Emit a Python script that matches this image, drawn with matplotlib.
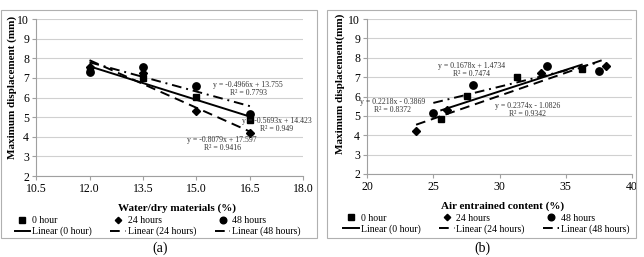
import matplotlib
matplotlib.use("Agg")
import matplotlib.pyplot as plt
from matplotlib.lines import Line2D
from matplotlib.patches import Rectangle
import numpy as np

plt.rcParams['font.family'] = ['Liberation Serif', 'DejaVu Serif']

# ---- data ----
water = [12.0, 13.5, 15.0, 16.5]
disp_0h = [7.4, 7.0, 6.05, 4.85]
disp_24h = [7.55, 7.23, 5.3, 4.2]
disp_48h = [7.3, 7.55, 6.6, 5.15]

air_0h = [36.2, 31.3, 27.55, 25.6]
air_24h = [38.0, 33.1, 26.0, 23.7]
air_48h = [37.5, 33.6, 28.0, 25.0]

# trendline coefficients (slope, intercept) and labels
fit_a = {'0h': (-0.5693, 14.423), '24h': (-0.8079, 17.597), '48h': (-0.4966, 13.755)}
fit_b = {'0h': (0.2218, -0.3869), '24h': (0.2374, -1.0826), '48h': (0.1678, 1.4734)}
eq_a = {'0h': "y = -0.5693x + 14.423\nR² = 0.949",
        '24h': "y = -0.8079x + 17.597\nR² = 0.9416",
        '48h': "y = -0.4966x + 13.755\nR² = 0.7793"}
eq_b = {'0h': "y = 0.2218x - 0.3869\nR² = 0.8372",
        '24h': "y = 0.2374x - 1.0826\nR² = 0.9342",
        '48h': "y = 0.1678x + 1.4734\nR² = 0.7474"}

xticks_a = [10.5, 12.0, 13.5, 15.0, 16.5, 18.0]
xticks_b = [20, 25, 30, 35, 40]
yticks = [2, 3, 4, 5, 6, 7, 8, 9, 10]

fig = plt.figure(figsize=(6.44, 2.57), dpi=100)

styles = {'0h': dict(ls='-'), '24h': dict(ls=(0, (5, 3))), '48h': dict(ls=(0, (5, 2.5, 1, 2.5)))}
markers = {'0h': ('s', 5.0), '24h': ('D', 3.6), '48h': ('o', 5.3)}
names = {'0h': '0 hour', '24h': '24 hours', '48h': '48 hours'}

def draw(ax, xs_dict, ys_dict, fits, eqs, eqpos, xlim, xticks, xfmt, xlabel, ylabel,
         leg_x, xlab_pos, ylab_pos):
    for k in ['0h', '24h', '48h']:
        m, s = markers[k]
        ax.plot(xs_dict[k], ys_dict[k], ls='none', marker=m, ms=s, color='black', zorder=3)
    for k in ['0h', '24h', '48h']:
        a, b = fits[k]
        xr = np.array([min(xs_dict[k]), max(xs_dict[k])])
        ax.plot(xr, a * xr + b, color='black', lw=1.4, zorder=2, **styles[k])
    for k in ['0h', '24h', '48h']:
        x, y = eqpos[k]
        ax.text(x, y, eqs[k], ha='center', va='center', fontsize=5.6, color='#333333',
                linespacing=1.1, zorder=4)
    ax.set_xlim(*xlim)
    ax.set_ylim(2, 10)
    ax.set_xticks(xticks)
    ax.set_xticklabels([xfmt.format(v) for v in xticks], fontsize=8.5)
    ax.set_yticks(yticks)
    ax.set_yticklabels([str(v) for v in yticks], fontsize=8.5)
    ax.grid(axis='y', color='#d0d0d0', lw=0.8)
    ax.set_axisbelow(True)
    for sp in ['top', 'right']:
        ax.spines[sp].set_visible(False)
    for sp in ['left', 'bottom']:
        ax.spines[sp].set_color('#a0a0a0')
    ax.tick_params(axis='both', colors='#a0a0a0', labelcolor='black', length=3, pad=2)
    ax.set_xlabel(xlabel, fontsize=8, fontweight='bold')
    ax.set_ylabel(ylabel, fontsize=8, fontweight='bold')
    ax.xaxis.set_label_coords(*xlab_pos)
    ax.yaxis.set_label_coords(*ylab_pos)
    ax.xaxis.label.set_va('center')
    ax.yaxis.label.set_va('center')
    handles = []
    for k in ['0h', '24h', '48h']:
        m, s = markers[k]
        handles.append(Line2D([], [], ls='none', marker=m, ms=s * 0.9, color='black', label=names[k]))
        handles.append(Line2D([], [], color='black', lw=1.4, label='Linear (%s)' % names[k], **styles[k]))
    ax.legend(handles=handles, ncol=3, loc='center left', bbox_to_anchor=(leg_x, -0.32),
              frameon=False, fontsize=7, handlelength=1.6, handletextpad=0.2,
              columnspacing=1.9, labelspacing=0.15, borderaxespad=0, borderpad=0)

axa = fig.add_axes([0.056, 0.315, 0.415, 0.611])
draw(axa, {'0h': water, '24h': water, '48h': water},
     {'0h': disp_0h, '24h': disp_24h, '48h': disp_48h},
     fit_a, eq_a, {'0h': (17.25, 4.6), '24h': (15.72, 3.63), '48h': (16.45, 6.44)},
     (10.5, 18.0), xticks_a, "{:.1f}", "Water/dry materials (%)", "Maximum displacement (mm)",
     -0.08, (0.528, -0.204), (-0.09, 0.567))

axb = fig.add_axes([0.570, 0.323, 0.4115, 0.603])
draw(axb, {'0h': air_0h, '24h': air_24h, '48h': air_48h},
     {'0h': disp_0h, '24h': disp_24h, '48h': disp_48h},
     fit_b, eq_b, {'0h': (21.9, 5.5), '24h': (32.1, 5.3), '48h': (27.9, 7.36)},
     (20, 40), xticks_b, "{:d}", "Air entrained content (%)", "Maximum displacement(mm)",
     -0.09, (0.51, -0.206), (-0.103, 0.58))

# outer boxes
fig.patches.append(Rectangle((1 / 644, 1 - 238 / 257), 316 / 644, 228 / 257, transform=fig.transFigure,
                             fill=False, edgecolor='#b0b0b0', lw=0.8))
fig.patches.append(Rectangle((327 / 644, 1 - 238 / 257), 309 / 644, 228 / 257, transform=fig.transFigure,
                             fill=False, edgecolor='#b0b0b0', lw=0.8))

fig.text(160 / 644, 1 - 248 / 257, "(a)", ha='center', va='center', fontsize=10)
fig.text(482 / 644, 1 - 248 / 257, "(b)", ha='center', va='center', fontsize=10)

fig.savefig("out.png", dpi=100)
